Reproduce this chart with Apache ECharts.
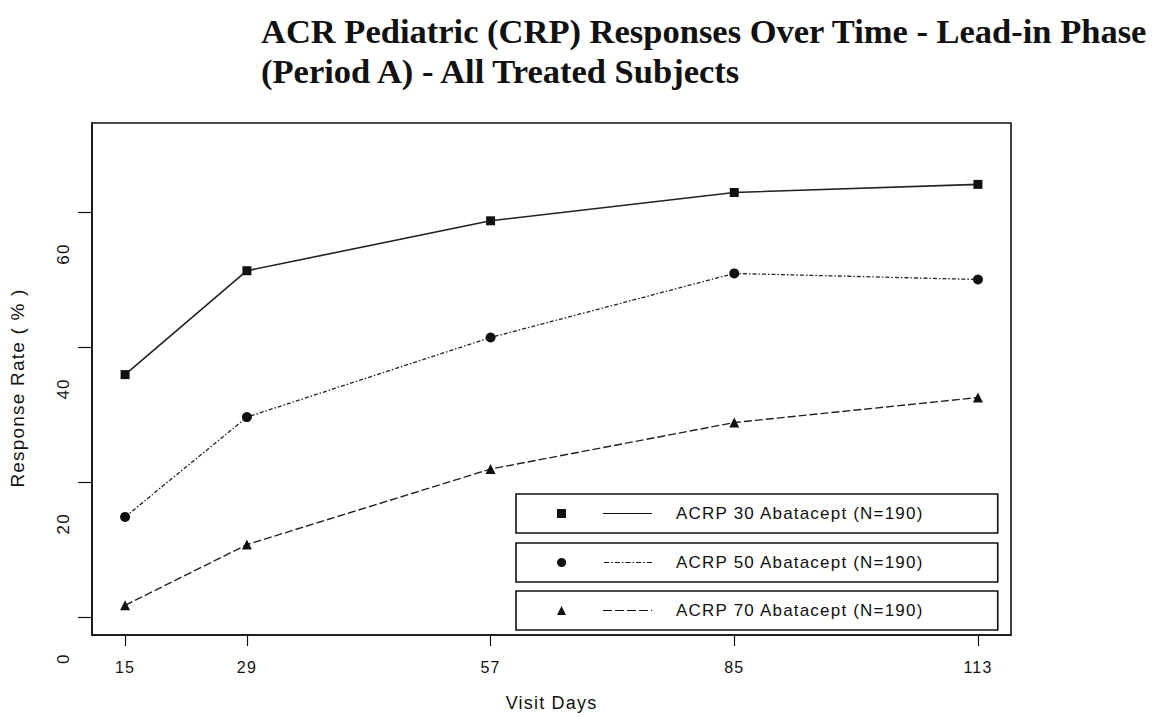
<!DOCTYPE html>
<html>
<head>
<meta charset="utf-8">
<title>ACR Pediatric (CRP) Responses Over Time</title>
<script src="https://cdn.jsdelivr.net/npm/echarts@6/dist/echarts.min.js"></script>
<style>
  html, body { margin: 0; padding: 0; background: #ffffff; }
  #chart { width: 1163px; height: 717px; }
  /* the sans-serif plot lettering is set slightly spaced out */
  #chart svg text { letter-spacing: 1.2px; }
  #chart svg text[style*="Serif"] { letter-spacing: 0; }
</style>
</head>
<body>
<div id="chart"></div>
<script>
// Visit days (x) and response rates in percent (y)
const visitDays = [15, 29, 57, 85, 113];
const acrp30 = [35.9, 51.3, 58.7, 62.9, 64.1];
const acrp50 = [14.8, 29.6, 41.4, 50.9, 50.0];
const acrp70 = [1.7, 10.7, 21.9, 28.8, 32.5];
const yTickValues = [0, 20, 40, 60];
const seriesNames = [
  'ACRP 30 Abatacept (N=190)',
  'ACRP 50 Abatacept (N=190)',
  'ACRP 70 Abatacept (N=190)'
];

const ink = '#111111';
const sansFont = '"Liberation Sans", Arial, sans-serif';

// Legend icons: marker on the left, line sample on the right (95 x 10 units)
function dashPath(pattern, x0, x1) {
  let d = '', x = x0, i = 0;
  while (x < x1) {
    const len = pattern[i % pattern.length];
    const end = Math.min(x + len, x1);
    if (i % 2 === 0) d += 'M' + x + ',4.4H' + end + 'V5.6H' + x + 'Z';
    x = end; i++;
  }
  return d;
}
const legendIcons = [
  'path://M0,0.5H9V9.5H0Z' + dashPath([49], 46, 95),
  'path://M0,5A4.5,4.5 0 1,0 9,5A4.5,4.5 0 1,0 0,5Z' + dashPath([5, 2, 1.5, 2], 46, 95),
  'path://M0,9.6L4.5,0.4L9,9.6Z' + dashPath([9, 3, 9, 3, 9, 3, 9, 3, 2, 3], 46, 95)
];
const legendTops = [494, 543, 591];

const lineDefs = [
  { values: acrp30, symbol: 'rect', size: [9, 9], width: 1.6, type: 'solid' },
  { values: acrp50, symbol: 'circle', size: 10, width: 1.3, type: [4, 2, 1.5, 2] },
  { values: acrp70, symbol: 'triangle', size: 10, width: 1.4, type: [8, 3] }
];

const chart = echarts.init(document.getElementById('chart'), null, { renderer: 'svg' });

chart.setOption({
  backgroundColor: '#ffffff',
  animation: false,
  title: {
    text: 'ACR Pediatric (CRP) Responses Over Time - Lead-in Phase\n(Period A) - All Treated Subjects',
    left: 256,
    top: 6,
    textStyle: {
      fontFamily: '"Liberation Serif", "Times New Roman", serif',
      fontWeight: 'bold',
      fontSize: 34.5,
      lineHeight: 40,
      color: ink
    }
  },
  legend: seriesNames.map((name, i) => ({
    data: [{ name: name, icon: legendIcons[i] }],
    left: 516,
    top: legendTops[i],
    orient: 'horizontal',
    selectedMode: false,
    itemWidth: 95,
    itemHeight: 10,
    padding: [10, 103, 10, 41],
    borderColor: ink,
    borderWidth: 1.6,
    backgroundColor: '#ffffff',
    itemStyle: { borderWidth: 0 },
    textStyle: {
      fontFamily: sansFont,
      fontSize: 17,
      lineHeight: 19,
      color: ink,
      padding: [0, 0, 0, 19]
    }
  })),
  grid: {
    left: 92,
    right: 152,
    top: 123,
    bottom: 78,
    show: true,
    borderColor: ink,
    borderWidth: 1.6,
    backgroundColor: 'transparent'
  },
  xAxis: {
    type: 'value',
    min: 11.2,
    max: 116.8,
    name: 'Visit Days',
    nameLocation: 'middle',
    nameGap: 59,
    nameTextStyle: { fontFamily: sansFont, fontSize: 18, color: ink },
    axisLine: { show: true, onZero: false, lineStyle: { color: ink, width: 1.6 } },
    axisTick: { show: true, length: 11, customValues: visitDays, lineStyle: { color: ink, width: 1.2 } },
    axisLabel: { customValues: visitDays, margin: 24, fontFamily: sansFont, fontSize: 16, color: ink },
    splitLine: { show: false }
  },
  yAxis: {
    type: 'value',
    min: -2.7,
    max: 73.2,
    name: 'Response Rate ( % )',
    nameLocation: 'middle',
    nameGap: 65,
    nameTextStyle: { fontFamily: sansFont, fontSize: 19, color: ink, padding: [0, 18, 0, 0] },
    axisLine: { show: true, onZero: false, lineStyle: { color: ink, width: 1.6 } },
    axisTick: { show: true, length: 14, customValues: yTickValues, lineStyle: { color: ink, width: 1.2 } },
    axisLabel: {
      customValues: yTickValues,
      rotate: 90,
      margin: 20,
      fontFamily: sansFont,
      fontSize: 17,
      color: ink,
      padding: [0, 84, 0, 0]
    },
    splitLine: { show: false }
  },
  series: lineDefs.map((def, i) => ({
    name: seriesNames[i],
    type: 'line',
    data: visitDays.map((d, k) => [d, def.values[k]]),
    symbol: def.symbol,
    symbolSize: def.size,
    showAllSymbol: true,
    color: ink,
    itemStyle: { color: ink, borderWidth: 0 },
    lineStyle: { color: '#222222', width: def.width, type: def.type }
  }))
});
</script>
</body>
</html>
